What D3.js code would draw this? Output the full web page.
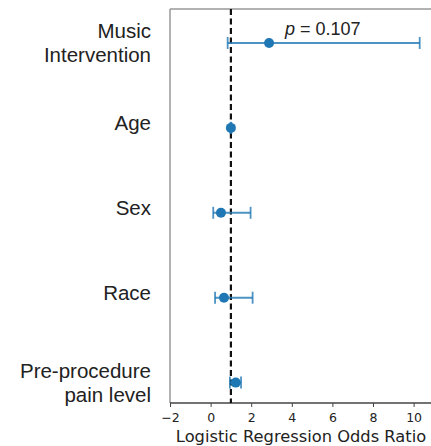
<!DOCTYPE html>
<meta charset="utf-8">
<style>
    body { margin: 0; background: #fff; }
    text { font-family: "Liberation Sans", Arial, sans-serif; }
    .axis--x path, .axis--x line { stroke: #444; }
    .axis--x text { font-family: "DejaVu Sans", sans-serif; font-size: 12.5px; fill: #222; }
    .xtitle { font-family: "DejaVu Sans", sans-serif; font-size: 16.3px; fill: #222; }
</style>
<svg width="431" height="446"></svg>
<script src="https://d3js.org/d3.v7.min.js"></script>
<script>

    // odds ratios, with 95% CI bounds
    var labels = [["Music", "Intervention"], ["Age"], ["Sex"], ["Race"], ["Pre-procedure", "pain level"]];
    var oddsRatio = [2.88, 1.00, 0.51, 0.66, 1.24];
    var ciLow = [0.84, 0.98, 0.13, 0.22, 0.95];
    var ciHigh = [10.3, 1.02, 1.97, 2.07, 1.50];
    var xTicks = [-2, 0, 2, 4, 6, 8, 10];
    var pLabel = "0.107";

    var svg = d3.select("svg"),
        margin = {top: 9, left: 170, bottom: 403},
        blue = "#1f77b4";

    var x = d3.scaleLinear().domain([-2, 11.2]).range([170, 170 + 13.2 * 20.3]),
        y = d3.scaleLinear().domain([-0.4, 4.24]).range([margin.top, margin.bottom]);

    // frame: top and left spines in grey
    svg.append("line")
        .attr("x1", x(-2)).attr("x2", 431)
        .attr("y1", y(-0.4)).attr("y2", y(-0.4))
        .attr("stroke", "#999").attr("stroke-width", 1.5);
    svg.append("line")
        .attr("x1", x(-2)).attr("x2", x(-2))
        .attr("y1", y(-0.4)).attr("y2", y(4.24))
        .attr("stroke", "#999").attr("stroke-width", 1.5);

    svg.append("g")
        .attr("class", "axis axis--x")
        .attr("transform", "translate(0," + y(4.24) + ")")
        .call(d3.axisBottom(x).tickValues(xTicks).tickSize(4).tickPadding(6)
            .tickFormat(function(d) { return d < 0 ? "\u2212" + (-d) : d; }))
        .call(function(g) { g.select(".domain").attr("d", "M" + x(-2) + ",0H431").attr("stroke-width", 1.5); });

    // reference line at OR = 1
    svg.append("line")
        .attr("x1", x(1)).attr("x2", x(1))
        .attr("y1", y(-0.4)).attr("y2", y(4.24))
        .attr("stroke", "#111").attr("stroke-width", 2.2)
        .attr("stroke-dasharray", "6,3.5");

    var rows = svg.selectAll(".row")
        .data(oddsRatio)
        .enter().append("g")
        .attr("class", "row");

    rows.append("line")
        .attr("x1", function(d, i) { return x(ciLow[i]); })
        .attr("x2", function(d, i) { return x(ciHigh[i]); })
        .attr("y1", function(d, i) { return y(i); })
        .attr("y2", function(d, i) { return y(i); })
        .attr("stroke", blue).attr("stroke-opacity", 0.8).attr("stroke-width", 2);

    [ciLow, ciHigh].forEach(function(arr) {
        rows.append("line")
            .attr("x1", function(d, i) { return x(arr[i]); })
            .attr("x2", function(d, i) { return x(arr[i]); })
            .attr("y1", function(d, i) { return y(i) - 6; })
            .attr("y2", function(d, i) { return y(i) + 6; })
            .attr("stroke", blue).attr("stroke-opacity", 0.8).attr("stroke-width", 1.8);
    });

    rows.append("circle")
        .attr("cx", function(d) { return x(d); })
        .attr("cy", function(d, i) { return y(i); })
        .attr("r", 5)
        .attr("fill", blue);

    // category labels
    svg.selectAll(".ylabel")
        .data(labels)
        .enter().append("text")
        .attr("class", "ylabel")
        .attr("text-anchor", "end")
        .attr("font-size", 20.5)
        .attr("fill", "#222")
        .each(function(d, i) {
            var t = d3.select(this), n = d.length;
            d.forEach(function(s, k) {
                t.append("tspan")
                    .attr("x", 151)
                    .attr("y", y(i) + (n > 1 ? 7 : 2) + (k - (n - 1) / 2) * 24)
                    .text(s);
            });
        });

    var p = svg.append("text")
        .attr("x", x(3.66)).attr("y", y(0) - 8)
        .attr("font-size", 18).attr("fill", "#222");
    p.append("tspan").attr("font-style", "italic").text("p");
    p.append("tspan").text(" = " + pLabel);

    svg.append("text")
        .attr("class", "xtitle")
        .attr("x", 301).attr("y", 442)
        .attr("text-anchor", "middle")
        .text("Logistic Regression Odds Ratio");
</script>
